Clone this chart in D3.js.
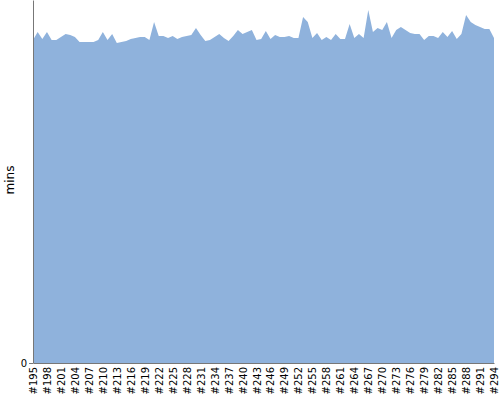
<!DOCTYPE html>
<html><head><meta charset="utf-8">
<script src="https://cdn.jsdelivr.net/npm/d3@7"></script>
<style>body{margin:0;background:#fff}svg{display:block}text{font-family:"DejaVu Sans",Verdana,sans-serif}</style>
</head><body><svg id="c" width="500" height="400"></svg>
<script>
const categories = d3.range(195, 295).map(n => "#" + n);
const tops = [40,32,39,32,40,40,37,34,35,37,
42,42,42,42,40,32,40,34,43,42,
41,39,38,37,37,40,22,36,36,38,
36,39,37,36,35,28,35,41,40,37,
34,38,41,36,30,34,32,30,40,39,
31,39,35,37,37,36,38,38,17,22,
38,33,40,37,40,34,39,39,24,38,
34,38,10,32,28,30,22,38,30,27,
30,33,34,34,40,36,36,38,32,37,
31,39,34,15,22,25,27,29,29,38];
const minutes = tops.map(t => +((363 - t) / 10).toFixed(1));
const yMax = 36.3;
const yTicks = [0];
const tickLabels = categories.filter((d, i) => i % 3 === 0);

const svg = d3.select("#c");
const m = {left: 33, top: 0, right: 6, bottom: 37};
const W = 500, H = 400;
const x = d3.scalePoint().domain(categories).range([m.left, W - m.right]);
const y = d3.scaleLinear().domain([0, yMax]).range([H - m.bottom, m.top]);

const data = categories.map((c, i) => ({c, v: minutes[i]}));
svg.append("path").datum(data)
  .attr("fill", "#8fb2dc")
  .attr("d", d3.area().x(d => x(d.c)).y0(y(0)).y1(d => y(d.v)));

const xa = svg.append("g").attr("transform", `translate(0,${H - m.bottom})`)
  .call(d3.axisBottom(x).tickValues(tickLabels).tickSize(0).tickSizeOuter(0).tickPadding(0));
xa.select(".domain").attr("stroke", "#777");
xa.selectAll(".tick text").attr("transform", "rotate(-90)")
  .attr("text-anchor", "end").attr("dx", "-4").attr("dy", "0.35em")
  .attr("x", 0).attr("y", 0)
  .style("font-size", "10px").attr("fill", "#000");

const ya = svg.append("g").attr("transform", `translate(${m.left},0)`)
  .call(d3.axisLeft(y).tickValues(yTicks).tickSize(4).tickSizeOuter(0).tickPadding(2));
ya.select(".domain").attr("stroke", "#777");
ya.selectAll("line").attr("stroke", "#777");
ya.selectAll("text").style("font-size", "10px").attr("fill", "#000");

svg.append("text").attr("transform", `translate(14,180) rotate(-90)`)
  .attr("text-anchor", "middle").style("font-size", "12px").text("mins");
</script></body></html>
